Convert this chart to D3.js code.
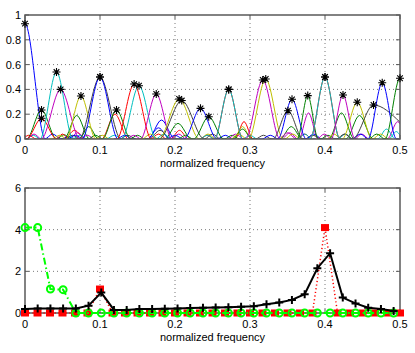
<!DOCTYPE html>
<html>
<head>
<meta charset="utf-8">
<script src="https://cdnjs.cloudflare.com/ajax/libs/d3/7.8.5/d3.min.js"></script>
<style>
body { margin: 0; background: #fff; }
text { font-family: "Liberation Sans", Arial, sans-serif; font-size: 11px; fill: #000; }
</style>
</head>
<body>
<svg></svg>
<script>
var w = 415,
    h = 353;

// matlab default colour order: b g r c m y k
var lineColors = ["#0000ff", "#008000", "#ff0000", "#00bfbf", "#bf00bf", "#bfbf00", "#404040"];

// top panel: main lobe of each filter (peak marked with *)
var peakFreq = [0, 0.022, 0.022, 0.042, 0.0475, 0.0746, 0.1, 0.1, 0.122, 0.1455,
                0.152, 0.175, 0.2055, 0.209, 0.234, 0.245, 0.2716, 0.2716, 0.317, 0.321,
                0.3506, 0.356, 0.377, 0.4, 0.4, 0.424, 0.443, 0.4647, 0.4763, 0.5];
var peakAmp = [0.93, 0.234, 0.167, 0.54, 0.40, 0.347, 0.50, 0.50, 0.234, 0.443,
               0.43, 0.363, 0.323, 0.31, 0.247, 0.18, 0.40, 0.40, 0.476, 0.484,
               0.228, 0.32, 0.35, 0.50, 0.50, 0.355, 0.296, 0.274, 0.454, 0.49];
var widthLeft = [0.027, 0.02, 0.02, 0.022, 0.026, 0.02, 0.028, 0.024, 0.019, 0.023,
                 0.023, 0.021, 0.027, 0.03, 0.022, 0.02, 0.019, 0.019, 0.023, 0.023,
                 0.02, 0.019, 0.014, 0.02, 0.02, 0.016, 0.02, 0.028, 0.019, 0.02];
var widthRight = [0.027, 0.02, 0.02, 0.022, 0.026, 0.02, 0.028, 0.024, 0.019, 0.023,
                  0.023, 0.021, 0.027, 0.03, 0.022, 0.02, 0.019, 0.019, 0.023, 0.023,
                  0.02, 0.019, 0.014, 0.02, 0.02, 0.016, 0.02, 0.07, 0.019, 0.02];

// secondary / side lobes: [colour, freq, amp, half width]
var sideLobes = [
  [1, 0.069, 0.19, 0.017], [1, 0.085, 0.10, 0.013], [2, 0.066, 0.07, 0.014], [4, 0.07, 0.05, 0.012],
  [2, 0.12, 0.20, 0.018], [0, 0.182, 0.153, 0.018], [0, 0.178, 0.09, 0.015], [6, 0.18, 0.07, 0.015],
  [1, 0.204, 0.126, 0.018], [2, 0.206, 0.07, 0.012], [2, 0.292, 0.14, 0.012], [5, 0.29, 0.10, 0.012],
  [1, 0.29, 0.08, 0.013], [4, 0.378, 0.21, 0.013], [1, 0.422, 0.21, 0.017], [1, 0.446, 0.19, 0.018],
  [4, 0.497, 0.14, 0.014], [3, 0.482, 0.08, 0.012], [3, 0.495, 0.06, 0.01], [1, 0.355, 0.10, 0.015],
  [4, 0.35, 0.05, 0.012],
  [0, 0.037, 0.04, 0.011], [0, 0.058, 0.02, 0.01], [1, 0.052, 0.035, 0.01], [2, 0.005, 0.03, 0.01],
  [2, 0.05, 0.04, 0.009], [3, 0.011, 0.03, 0.01], [3, 0.073, 0.03, 0.01], [4, 0.012, 0.04, 0.01],
  [4, 0.083, 0.03, 0.01], [5, 0.046, 0.03, 0.01], [5, 0.103, 0.03, 0.01], [6, 0.063, 0.03, 0.011],
  [6, 0.137, 0.03, 0.011], [0, 0.067, 0.03, 0.011], [0, 0.133, 0.03, 0.011], [1, 0.094, 0.03, 0.01],
  [1, 0.15, 0.03, 0.01], [2, 0.178, 0.04, 0.011], [3, 0.119, 0.03, 0.011], [3, 0.185, 0.04, 0.011],
  [4, 0.145, 0.03, 0.01], [4, 0.205, 0.04, 0.01], [5, 0.167, 0.04, 0.011], [5, 0.244, 0.04, 0.011],
  [6, 0.25, 0.04, 0.011], [0, 0.2, 0.03, 0.011], [0, 0.267, 0.03, 0.011], [1, 0.214, 0.03, 0.01],
  [1, 0.276, 0.03, 0.01], [2, 0.243, 0.03, 0.01], [3, 0.3, 0.03, 0.01], [3, 0.243, 0.03, 0.01],
  [4, 0.281, 0.04, 0.011], [4, 0.353, 0.05, 0.011], [5, 0.285, 0.04, 0.011], [5, 0.357, 0.04, 0.011],
  [6, 0.318, 0.03, 0.011], [6, 0.384, 0.03, 0.011], [0, 0.327, 0.03, 0.011], [0, 0.385, 0.04, 0.011],
  [1, 0.404, 0.03, 0.01], [2, 0.373, 0.04, 0.01], [2, 0.427, 0.04, 0.01], [3, 0.373, 0.04, 0.01],
  [3, 0.427, 0.04, 0.01], [4, 0.399, 0.04, 0.01], [4, 0.449, 0.04, 0.01], [5, 0.412, 0.04, 0.01],
  [5, 0.474, 0.04, 0.011], [6, 0.426, 0.04, 0.011], [0, 0.447, 0.04, 0.011], [1, 0.469, 0.04, 0.011]
];

// bottom panel
var estFreq = [0, 0.0169, 0.0339, 0.0508, 0.0678, 0.0847, 0.1017, 0.1186, 0.1356, 0.1525,
               0.1695, 0.1864, 0.2034, 0.2203, 0.2373, 0.2542, 0.2712, 0.2881, 0.3051, 0.322,
               0.339, 0.3559, 0.3729, 0.3898, 0.4068, 0.4237, 0.4407, 0.4576, 0.4746, 0.4915];
var smoothPower = [0.19, 0.22, 0.22, 0.22, 0.22, 0.35, 0.98, 0.15, 0.15, 0.19,
                   0.19, 0.2, 0.22, 0.24, 0.25, 0.26, 0.28, 0.3, 0.32, 0.42,
                   0.5, 0.63, 0.9, 2.15, 2.87, 0.74, 0.46, 0.25, 0.19, 0.1];
var sparsePower = [4.1, 4.1, 1.15, 1.12, 0, 0, 0, 0, 0, 0,
                   0, 0, 0, 0, 0, 0, 0, 0, 0, 0,
                   0, 0, 0, 0, 0, 0, 0, 0, 0, 0];
var trueFreq = [0, 0.0167, 0.0333, 0.05, 0.0667, 0.0833, 0.1, 0.1167, 0.1333, 0.15,
                0.1667, 0.1833, 0.2, 0.2167, 0.2333, 0.25, 0.2667, 0.2833, 0.3, 0.3167,
                0.3333, 0.35, 0.3667, 0.3833, 0.4, 0.4167, 0.4333, 0.45, 0.4667, 0.4833, 0.5];
var truePower = [0, 0, 0, 0, 0, 0, 1.15, 0, 0, 0,
                 0, 0, 0, 0, 0, 0, 0, 0, 0, 0,
                 0, 0, 0, 0, 4.1, 0, 0, 0, 0, 0, 0];

var xTicks = [0, 0.1, 0.2, 0.3, 0.4, 0.5];
var topYTicks = [0, 0.2, 0.4, 0.6, 0.8, 1];
var botYTicks = [0, 2, 4, 6];

var svg = d3.select("svg")
  .attr("width", w)
  .attr("height", h);

var left = 25, right = 400;

function makeAxes(id, top, bottom, yMax, yTicks) {
  var x = d3.scaleLinear().domain([0, 0.5]).range([left, right]);
  var y = d3.scaleLinear().domain([0, yMax]).range([bottom, top]);
  var g = svg.append("g");

  svg.append("clipPath").attr("id", id)
    .append("rect")
    .attr("x", left).attr("y", top)
    .attr("width", right - left).attr("height", bottom - top);

  // dotted grid
  g.selectAll(".gx").data(xTicks.slice(1, -1)).enter()
    .append("line")
    .attr("x1", function(d){ return x(d); }).attr("x2", function(d){ return x(d); })
    .attr("y1", top).attr("y2", bottom)
    .attr("stroke", "#555").attr("stroke-width", 0.8).attr("stroke-dasharray", "1,3");
  g.selectAll(".gy").data(yTicks.slice(1, -1)).enter()
    .append("line")
    .attr("y1", function(d){ return y(d); }).attr("y2", function(d){ return y(d); })
    .attr("x1", left).attr("x2", right)
    .attr("stroke", "#555").attr("stroke-width", 0.8).attr("stroke-dasharray", "1,3");

  return { x: x, y: y, g: g, top: top, bottom: bottom, yTicks: yTicks };
}

function finishAxes(a) {
  var g = svg.append("g");
  g.append("rect")
    .attr("x", left).attr("y", a.top)
    .attr("width", right - left).attr("height", a.bottom - a.top)
    .attr("fill", "none").attr("stroke", "#5a5a5a").attr("stroke-width", 1.5);

  xTicks.forEach(function(d){
    g.append("line").attr("x1", a.x(d)).attr("x2", a.x(d))
      .attr("y1", a.bottom).attr("y2", a.bottom - 4).attr("stroke", "#5a5a5a");
    g.append("line").attr("x1", a.x(d)).attr("x2", a.x(d))
      .attr("y1", a.top).attr("y2", a.top + 4).attr("stroke", "#5a5a5a");
    g.append("text").attr("x", a.x(d)).attr("y", a.bottom + 15)
      .attr("text-anchor", "middle").text(d3.format("~g")(d));
  });
  a.yTicks.forEach(function(d){
    g.append("line").attr("y1", a.y(d)).attr("y2", a.y(d))
      .attr("x1", left).attr("x2", left + 4).attr("stroke", "#5a5a5a");
    g.append("line").attr("y1", a.y(d)).attr("y2", a.y(d))
      .attr("x1", right).attr("x2", right - 4).attr("stroke", "#5a5a5a");
    g.append("text").attr("x", left - 4).attr("y", a.y(d) + 4)
      .attr("text-anchor", "end").text(d3.format("~g")(d));
  });
  g.append("text").attr("x", (left + right) / 2).attr("y", a.bottom + 28)
    .attr("text-anchor", "middle").text("normalized frequency");
}

// ---------- top panel ----------
var topAx = makeAxes("clipTop", 15, 139, 1, topYTicks);

var lobeLine = d3.line()
  .x(function(d){ return topAx.x(d[0]); })
  .y(function(d){ return topAx.y(d[1]); })
  .curve(d3.curveMonotoneX);

function lobePoints(f, a, wl, wr) {
  return [[f - wl - 0.004, 0], [f - wl, 0], [f, a], [f + wr, 0], [f + wr + 0.004, 0]];
}

var curves = topAx.g.append("g").attr("clip-path", "url(#clipTop)");

curves.selectAll(".side")
  .data(sideLobes)
  .enter()
  .append("path")
  .attr("fill", "none")
  .attr("stroke", function(d){ return lineColors[d[0]]; })
  .attr("stroke-width", 1)
  .attr("d", function(d){ return lobeLine(lobePoints(d[1], d[2], d[3], d[3])); });

curves.selectAll(".main")
  .data(peakFreq)
  .enter()
  .append("path")
  .attr("fill", "none")
  .attr("stroke", function(d, i){ return lineColors[i % 7]; })
  .attr("stroke-width", 1)
  .attr("d", function(d, i){ return lobeLine(lobePoints(d, peakAmp[i], widthLeft[i], widthRight[i])); });

finishAxes(topAx);

// asterisks on the peaks
svg.append("g").selectAll("path")
  .data(peakFreq)
  .enter()
  .append("path")
  .attr("transform", function(d, i){ return "translate(" + topAx.x(d) + "," + topAx.y(peakAmp[i]) + ")"; })
  .attr("d", "M-4,0H4M0,-4V4M-2.8,-2.8L2.8,2.8M-2.8,2.8L2.8,-2.8")
  .attr("stroke", "#000")
  .attr("stroke-width", 1.1)
  .attr("fill", "none");

// ---------- bottom panel ----------
var botAx = makeAxes("clipBot", 188, 313, 6, botYTicks);
finishAxes(botAx);

var pg = svg.append("g");

function seriesLine(xs) {
  return d3.line()
    .x(function(d, i){ return botAx.x(xs[i]); })
    .y(function(d){ return botAx.y(d); });
}

// true spectrum: red dotted with squares
pg.append("path")
  .attr("d", seriesLine(trueFreq)(truePower))
  .attr("fill", "none").attr("stroke", "#ff0000")
  .attr("stroke-width", 1.5).attr("stroke-dasharray", "1.2,2.5");
pg.selectAll(".sq")
  .data(truePower)
  .enter()
  .append("rect")
  .attr("x", function(d, i){ return botAx.x(trueFreq[i]) - 4; })
  .attr("y", function(d){ return botAx.y(d) - 3.5; })
  .attr("width", 8).attr("height", 7)
  .attr("fill", "#ff0000");

// sparse estimate: green dash-dot with circles
pg.append("path")
  .attr("d", seriesLine(estFreq)(sparsePower))
  .attr("fill", "none").attr("stroke", "#00ff00")
  .attr("stroke-width", 2).attr("stroke-dasharray", "7,3,1.5,3");
pg.selectAll(".ci")
  .data(sparsePower)
  .enter()
  .append("circle")
  .attr("cx", function(d, i){ return botAx.x(estFreq[i]); })
  .attr("cy", function(d){ return botAx.y(d); })
  .attr("r", 3.5)
  .attr("fill", "none").attr("stroke", "#00ff00").attr("stroke-width", 2);

// smooth estimate: black solid with plus
pg.append("path")
  .attr("d", seriesLine(estFreq)(smoothPower))
  .attr("fill", "none").attr("stroke", "#000")
  .attr("stroke-width", 2);
pg.selectAll(".pl")
  .data(smoothPower)
  .enter()
  .append("path")
  .attr("transform", function(d, i){ return "translate(" + botAx.x(estFreq[i]) + "," + botAx.y(d) + ")"; })
  .attr("d", "M-4,0H4M0,-4V4")
  .attr("stroke", "#000").attr("stroke-width", 2);
</script>
</body>
</html>
